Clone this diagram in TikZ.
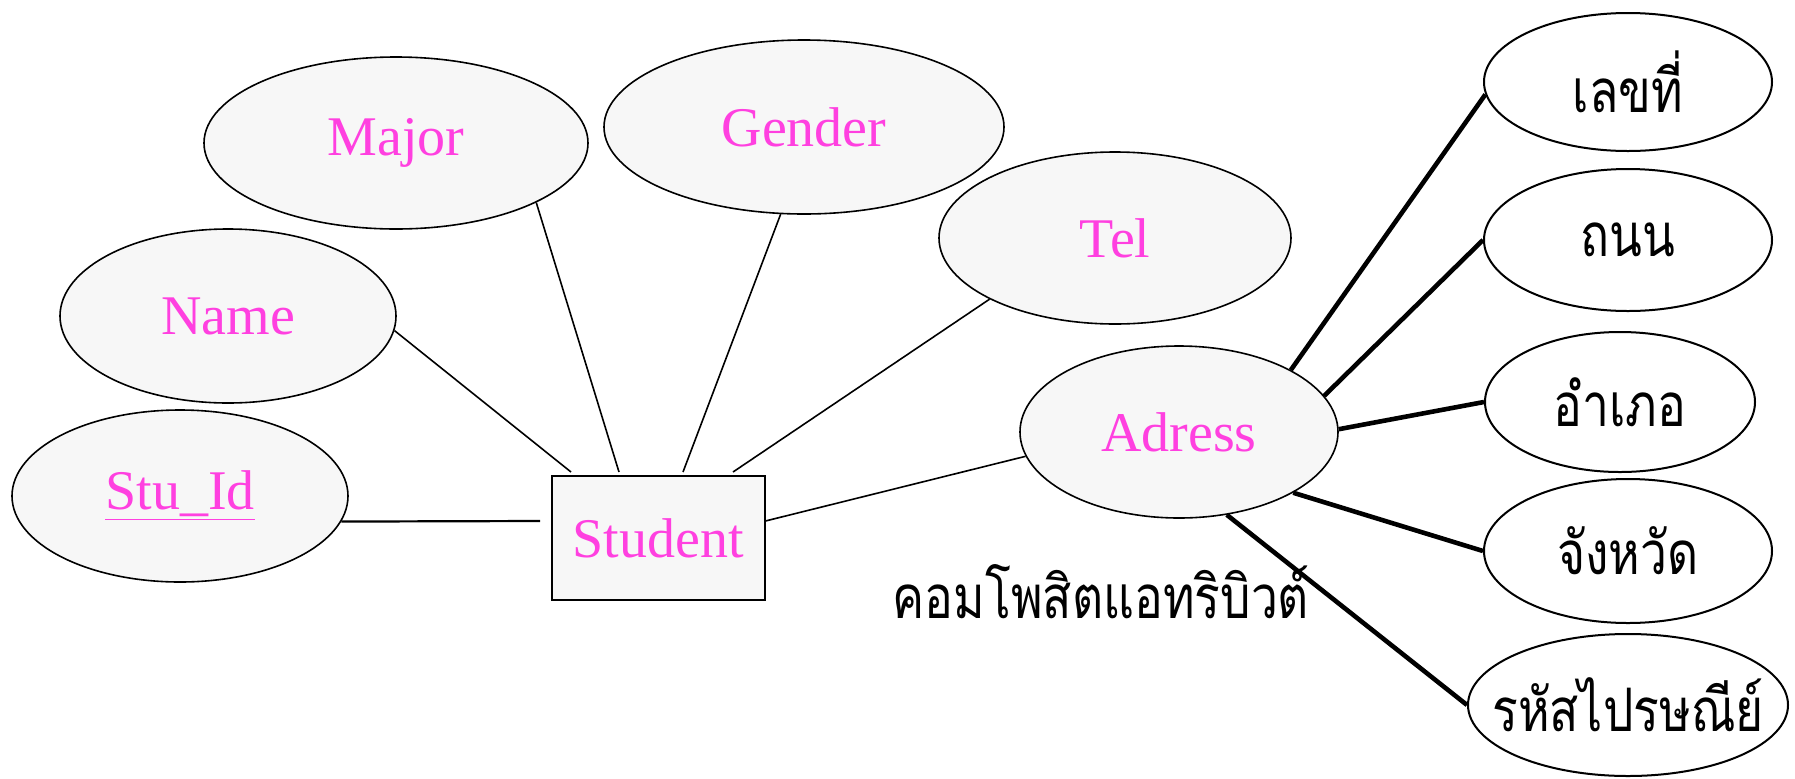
\documentclass[tikz,border=0pt]{standalone}
\usepackage{fontspec}
\usepackage{graphicx}
\setmainfont{Liberation Serif}
\newfontfamily\thaifont[Script=Thai]{Loma}
\usetikzlibrary{shapes.geometric}
\definecolor{attrpink}{RGB}{255,64,224}
\definecolor{attrfill}{RGB}{247,247,247}
\newcommand{\tallthai}[1]{\scalebox{1}[1.25]{\thaifont\fontsize{24}{28}\selectfont #1}}
\begin{document}
\begin{tikzpicture}[x=0.5pt,y=-0.5pt,
  attr/.style={ellipse,draw=black,line width=0.8pt,fill=attrfill,inner sep=0pt,text=attrpink,font=\fontsize{28}{30}\selectfont},
  subattr/.style={ellipse,draw=black,line width=1pt,fill=white,inner sep=0pt},
  entitybox/.style={rectangle,draw=black,line width=1pt,fill=attrfill,inner sep=0pt,text=attrpink,font=\fontsize{28}{30}\selectfont},
  conn/.style={line width=0.8pt},
  thickconn/.style={line width=2.3pt}]
\useasboundingbox (0,0) rectangle (1795,778);
% entity
\node[entitybox,minimum width=106.5pt,minimum height=62pt] (student) at (658,538) {Student};
% attributes
\node[attr,minimum width=192pt,minimum height=86pt] (major) at (396,143) {Major};
\node[attr,minimum width=200pt,minimum height=87pt] (gender) at (804,127) {Gender};
\node[attr,minimum width=176pt,minimum height=86pt] (tel) at (1115,238) {Tel};
\node[attr,minimum width=168pt,minimum height=87pt] (name) at (228,316) {Name};
\node[attr,minimum width=168pt,minimum height=86pt] (stuid) at (180,496) {\underline{Stu\_Id}};
\node[attr,minimum width=159pt,minimum height=86pt] (adr) at (1179,432) {Adress};
% sub attributes
\node[subattr,minimum width=144pt,minimum height=69pt,label={center:\tallthai{เลขที่}}] (n1) at (1628,82) {};
\node[subattr,minimum width=144pt,minimum height=71pt,label={center:\tallthai{ถนน}}] (n2) at (1628,240) {};
\node[subattr,minimum width=135pt,minimum height=70pt,label={center:\tallthai{อำเภอ}}] (n3) at (1620,402) {};
\node[subattr,minimum width=144pt,minimum height=72pt,label={center:\tallthai{จังหวัด}}] (n4) at (1628,551) {};
\node[subattr,minimum width=160pt,minimum height=71pt,label={center:\tallthai{รหัสไปรษณีย์}}] (n5) at (1628,705) {};
% caption
\node (cap) at (1101,592) {\tallthai{คอมโพสิตแอทริบิวต์}};
% free ends near the entity
\coordinate (sA) at (571,472);
\coordinate (sB) at (619,472);
\coordinate (sC) at (683,472);
\coordinate (sD) at (733,472);
\coordinate (sE) at (540,521);
% connectors
\draw[conn] (name.-5) -- (sA);
\draw[conn] (major.-23) -- (sB);
\draw[conn] (gender.-105) -- (sC);
\draw[conn] (tel.-154) -- (sD);
\draw[line width=1.1pt] (stuid.-9) -- (sE);
\draw[conn] (student.9) -- (adr.-171);
\draw[thickconn] (adr.29) -- (n1.-175);
\draw[thickconn] (adr.14) -- (n2.west);
\draw[thickconn] (adr.1) -- (n3.west);
\draw[thickconn] (adr.-28) -- (n4.west);
\draw[thickconn] (adr.-60) -- (n5.west);
\end{tikzpicture}
\end{document}
